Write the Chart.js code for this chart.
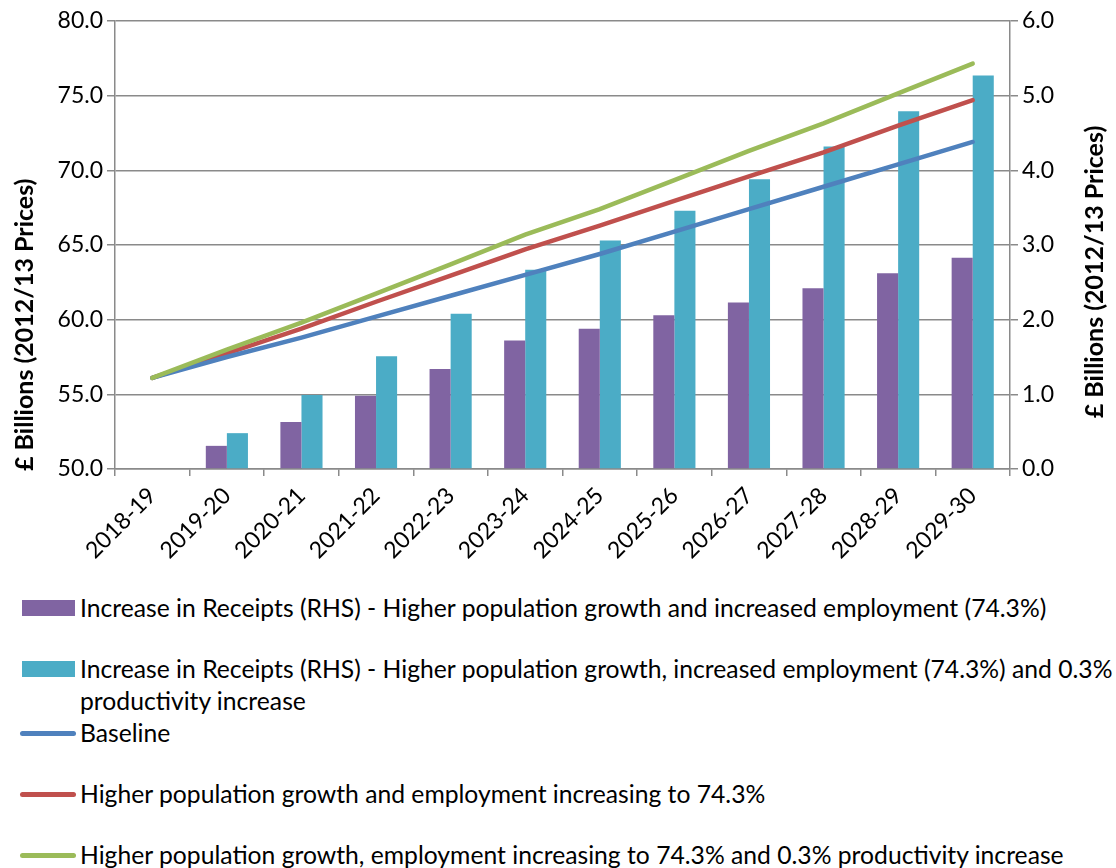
<!DOCTYPE html>
<html>
<head>
<meta charset="utf-8">
<script src="https://cdn.jsdelivr.net/npm/chart.js@4"></script>
<style>
  body { margin: 0; background: #fff; font-family: Lato, sans-serif; }
  #wrap { position: relative; width: 1116px; height: 580px; }
  #legend { position: relative; padding-top: 12px; }
  .item { display: flex; align-items: flex-start; min-height: 61px; line-height: 32px; font-size: 24.7px; color: #000; white-space: nowrap; }
  .mark { flex: none; margin-top: 8px; margin-right: 5px; }
  .box { width: 53px; height: 16px; margin-left: 22px; }
  .line { width: 56px; height: 5px; border-radius: 3px; margin-left: 20px; margin-top: 14px; margin-right: 4px; }
</style>
</head>
<body>
<div id="wrap"><canvas id="grafico"></canvas></div>
<div id="legend"></div>
<script>
const categorias = ["2018-19", "2019-20", "2020-21", "2021-22", "2022-23", "2023-24",
  "2024-25", "2025-26", "2026-27", "2027-28", "2028-29", "2029-30"];

// barras (eixo direito)
const receitasEmprego = [null, 0.31, 0.63, 0.98, 1.34, 1.72, 1.88, 2.06, 2.23, 2.42, 2.62, 2.83];
const receitasProdutividade = [null, 0.48, 0.99, 1.51, 2.08, 2.67, 3.06, 3.46, 3.88, 4.32, 4.79, 5.27];

// linhas (eixo esquerdo)
const baseline = [56.1, 57.5, 58.8, 60.2, 61.6, 63.0, 64.4, 65.9, 67.4, 68.9, 70.4, 71.9];
const crescimentoEmprego = [56.1, 57.75, 59.4, 61.2, 62.95, 64.7, 66.3, 67.95, 69.6, 71.2, 73.0, 74.7];
const crescimentoProdutividade = [56.1, 58.0, 59.8, 61.75, 63.7, 65.7, 67.4, 69.35, 71.3, 73.15, 75.15, 77.15];

const legendas = [
  ["Increase in Receipts (RHS) - Higher population growth and increased employment (74.3%)"],
  ["Increase in Receipts (RHS) - Higher population growth, increased employment (74.3%) and 0.3%", "productivity increase"],
  ["Baseline"],
  ["Higher population growth and employment increasing to 74.3%"],
  ["Higher population growth, employment increasing to 74.3% and 0.3% productivity increase"],
];

const tituloEixo = "£ Billions (2012/13 Prices)";

const cores = ["#8064A2", "#4BACC6", "#4F81BD", "#C0504D", "#9BBB59"];
const gridCor = "#8a8a8a";

// Plugin → títulos dos eixos (os dois lidos de baixo para cima)
const axisTitles = {
  id: "axisTitles",
  afterDraw(chart, args, opts) {
    const { ctx } = chart;
    ctx.save();
    ctx.font = "bold 25px Lato";
    ctx.fillStyle = "#000";
    ctx.textBaseline = "middle";
    opts.items.forEach((t) => {
      ctx.save();
      ctx.translate(t.x, t.y);
      ctx.rotate(-Math.PI / 2);
      ctx.textAlign = t.align;
      ctx.fillText(tituloEixo, 0, 0);
      ctx.restore();
    });
    ctx.restore();
  },
};

const fonte = { family: "Lato", size: 23 };

function desenhar() {
  new Chart(document.getElementById("grafico"), {
    type: "bar",
    plugins: [axisTitles],
    data: {
      labels: categorias,
      datasets: [
        {
          label: legendas[0].join(" "),
          data: receitasEmprego,
          backgroundColor: cores[0],
          yAxisID: "y2",
          order: 2,
          categoryPercentage: 0.565,
          barPercentage: 1.0,
        },
        {
          label: legendas[1].join(" "),
          data: receitasProdutividade,
          backgroundColor: cores[1],
          yAxisID: "y2",
          order: 2,
          categoryPercentage: 0.565,
          barPercentage: 1.0,
        },
        {
          type: "line",
          label: legendas[2][0],
          data: baseline,
          borderColor: cores[2],
          borderWidth: 4.5,
          borderCapStyle: "round",
          pointRadius: 0,
          yAxisID: "y",
          order: 1,
        },
        {
          type: "line",
          label: legendas[3][0],
          data: crescimentoEmprego,
          borderColor: cores[3],
          borderWidth: 4.5,
          borderCapStyle: "round",
          pointRadius: 0,
          yAxisID: "y",
          order: 1,
        },
        {
          type: "line",
          label: legendas[4][0],
          data: crescimentoProdutividade,
          borderColor: cores[4],
          borderWidth: 4.5,
          borderCapStyle: "round",
          pointRadius: 0,
          yAxisID: "y",
          order: 0,
        },
      ],
    },
    options: {
      responsive: true,
      maintainAspectRatio: false,
      animation: false,
      layout: { padding: { top: 21, left: 0, right: 0, bottom: 0 } },
      plugins: {
        legend: { display: false },
        tooltip: { enabled: false },
        axisTitles: {
          items: [
            { x: 25, y: 471, align: "left" },
            { x: 1095, y: 272, align: "center" },
          ],
        },
      },
      scales: {
        x: {
          offset: true,
          grid: { display: true, drawOnChartArea: false, offset: true, color: gridCor, lineWidth: 1.5, tickLength: 7 },
          border: { color: gridCor, width: 1.5 },
          ticks: { color: "#000", font: fonte, minRotation: 45, maxRotation: 45, padding: 6 },
          afterFit: (s) => { s.height = 111; },
        },
        y: {
          position: "left",
          min: 50,
          max: 80,
          ticks: { stepSize: 5, color: "#000", font: fonte, padding: 4, callback: (v) => v.toFixed(1) },
          grid: { color: gridCor, lineWidth: 1.5, tickLength: 8 },
          border: { color: gridCor, width: 1.5 },
          afterFit: (s) => { s.width = 115; },
        },
        y2: {
          position: "right",
          min: 0,
          max: 6,
          ticks: { stepSize: 1, color: "#000", font: fonte, padding: 4, callback: (v) => v.toFixed(1) },
          grid: { drawOnChartArea: false, color: gridCor, lineWidth: 1.5, tickLength: 8 },
          border: { color: gridCor, width: 1.5 },
          afterFit: (s) => { s.width = 106; },
        },
      },
    },
  });

  // legenda em HTML
  const leg = document.getElementById("legend");
  legendas.forEach((linhas, i) => {
    const item = document.createElement("div");
    item.className = "item";
    const m = document.createElement("span");
    m.className = "mark " + (i < 2 ? "box" : "line");
    m.style.background = cores[i];
    const t = document.createElement("span");
    t.innerHTML = linhas.join("<br>");
    item.appendChild(m);
    item.appendChild(t);
    leg.appendChild(item);
  });
}

document.fonts.load("23px Lato").then(desenhar, desenhar);
</script>
</body>
</html>
